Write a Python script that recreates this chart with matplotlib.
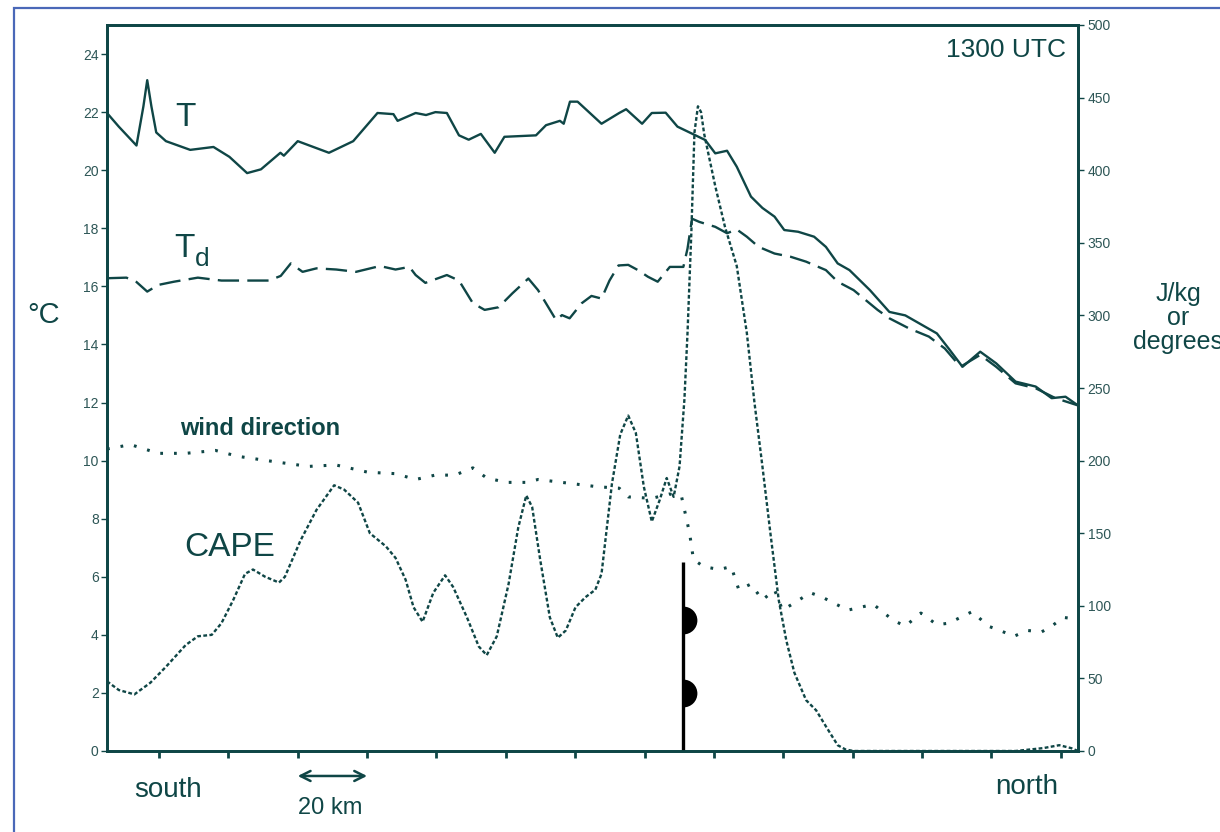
import numpy as np
import matplotlib
matplotlib.use("Agg")
import matplotlib.pyplot as plt
from matplotlib.patches import Rectangle

# distance along the transect (km, south -> north)
t_km = [0, 3.4, 8.5, 10.5, 11.6, 12.8, 14.2, 17, 24, 30.7, 35.3, 40.4, 44.4, 50, 51,
        55, 64, 71, 78, 82.6, 83.8, 89, 92, 94.7, 98, 101.5, 104.3, 107.8, 111.8,
        114.6, 123.7, 126.6, 130.6, 131.7, 133.5, 135.7, 142.6, 147.7, 149.7, 154.3,
        157.1, 161.1, 164.5, 168.5, 172.5, 175.4, 178.8, 181.6, 185.7, 189, 192.5,
        195.3, 199.3, 203.9, 207.3, 210.7, 214.1, 220, 225.6, 230.2, 239.3, 242.7,
        246.7, 251.8, 256.4, 262, 267.8, 272.4, 276.4, 280]
t_c = [21.97, 21.5, 20.85, 22.2, 23.1, 22.2, 21.3, 21.0, 20.7, 20.8, 20.46, 19.9, 20.03,
       20.6, 20.5, 21.0, 20.6, 21.0, 21.97, 21.93, 21.7, 21.97, 21.9, 22.0, 21.97, 21.2,
       21.05, 21.25, 20.6, 21.15, 21.2, 21.55, 21.7, 21.6, 22.36, 22.36, 21.6, 21.97,
       22.1, 21.6, 21.97, 21.98, 21.5, 21.27, 21.04, 20.58, 20.67, 20.12, 19.09, 18.7,
       18.4, 17.94, 17.88, 17.71, 17.36, 16.79, 16.56, 15.87, 15.12, 15.0, 14.38, 13.86,
       13.23, 13.75, 13.35, 12.72, 12.55, 12.15, 12.2, 11.9]

td_km = [0, 5.6, 8.5, 11.6, 14.8, 19.3, 26.2, 33, 39.9, 46.7, 50.1, 53, 56.4, 60.4,
         66.1, 71.8, 78.7, 83.2, 87.2, 89, 91.8, 98, 101.5, 105.5, 108.9, 112.9, 116.9,
         121.5, 124.3, 129.5, 131.2, 133.4, 136.9, 139.7, 142.6, 144.9, 147.5, 150.3,
         153.1, 156, 158.8, 162.3, 166.2, 167.4, 168.7, 170.8, 175.4, 178.8, 181.6,
         184.5, 187.9, 192.5, 197.1, 201.6, 207.3, 210.7, 215.3, 222.2, 225.6, 231.3,
         237, 241.6, 246.1, 251.8, 256.4, 262, 267.8, 273.5, 280]
td_c = [16.28, 16.3, 16.15, 15.82, 16.05, 16.16, 16.3, 16.2, 16.2, 16.2, 16.36, 16.79,
        16.5, 16.62, 16.58, 16.5, 16.7, 16.58, 16.67, 16.39, 16.12, 16.39, 16.2, 15.42,
        15.19, 15.28, 15.76, 16.27, 15.87, 14.84, 15.01, 14.9, 15.42, 15.67, 15.58, 16.2,
        16.72, 16.74, 16.56, 16.33, 16.16, 16.67, 16.67, 17.3, 18.33, 18.22, 18.05, 17.83,
        17.96, 17.71, 17.36, 17.13, 17.02, 16.85, 16.56, 16.16, 15.87, 15.19, 14.9, 14.55,
        14.27, 13.86, 13.23, 13.64, 13.23, 12.66, 12.49, 12.15, 11.9]

wind_km = [0, 6.8, 14.8, 22.7, 31.3, 37.6, 49, 58.1, 66, 75.2, 83.2, 89, 94.6, 100.3,
           105.5, 109.5, 115.2, 121, 124.3, 134.6, 141.4, 147.7, 150.3, 157.1, 162.2,
           165.7, 168, 169.1, 172, 176.5, 180, 182.2, 185.7, 189, 192.5, 194.8, 198.2,
           202.8, 206.2, 213.6, 221, 226.7, 230.2, 234.7, 239.3, 242.7, 249.5, 254.1,
           257.5, 261.5, 265.5, 269.5, 272.4, 275.8, 279.2]
wind_deg = [208, 211, 205, 205, 207, 203, 199, 196, 197, 192, 191, 187, 190, 190, 195,
            188, 185, 185, 187, 184, 182, 181, 175, 174, 177, 175, 150, 132, 127, 125,
            127, 111, 115, 104, 111, 97, 102, 109, 106, 97, 101, 90, 86, 95, 87, 88, 96,
            86, 83, 79, 83, 82, 86, 92, 91]

cape_km = [0, 3.4, 7.9, 12.5, 17, 22.7, 26.2, 30.2, 33, 36.4, 39.8, 42.1, 45.6, 49.6,
           51.3, 55.8, 60.4, 65.5, 68.4, 72.4, 75.8, 80.4, 83.2, 86.1, 88.4, 91, 94.1,
           97.5, 99.8, 103.8, 107.2, 109.5, 112.4, 115.8, 118.6, 120.9, 122.6, 124.9,
           127.7, 130, 132.3, 135.1, 138, 140.8, 142.6, 145.6, 148, 150.3, 152.5, 154.8,
           157.1, 159.4, 161.4, 163.4, 165.1, 166.5, 167.4, 168.5, 169.4, 170.4, 171.3,
           172.2, 175.4, 178.2, 181.6, 184.5, 186.7, 189, 191.3, 193.7, 195.9, 198.2,
           201.6, 204.5, 207.3, 210.7, 213, 215.3, 262, 266, 270, 274.6, 278, 280]
cape_jkg = [48, 42, 39, 47, 58, 73, 79, 80, 88, 104, 122, 125, 120, 116, 120, 145, 166,
            183, 180, 171, 150, 141, 133, 118, 99, 89, 109, 121, 113, 92, 72, 66, 79, 115,
            154, 176, 168, 132, 92, 78, 83, 99, 106, 111, 122, 184, 218, 231, 219, 182,
            158, 173, 188, 175, 196, 242, 288, 357, 426, 444, 440, 425, 389, 361, 334, 288,
            240, 196, 150, 104, 76, 54, 35, 28, 17, 4, 1, 0, 0, 1, 2, 4, 2, 0]

# surface warm front position and its symbols (right-axis units)
front_km = 166
front_top = 130
front_symbols = [40, 90]

temp_ticks = np.arange(0, 25, 2)
right_ticks = np.arange(0, 501, 50)
dist_ticks = np.arange(15, 276, 20)

INK = "#0f4646"
TICK_INK = "#2d5656"
plt.rcParams["font.family"] = ["Liberation Sans", "DejaVu Sans"]

W, H = 1220, 832
fig = plt.figure(figsize=(W / 100, H / 100), dpi=100)
ax = fig.add_axes([107 / W, 81 / H, 971 / W, 726 / H])
ax2 = ax.twinx()

ax.plot(t_km, t_c, color=INK, lw=1.7, solid_joinstyle="round")
ax.plot(td_km, td_c, color=INK, lw=1.7, dashes=(9, 3.5))
ax2.plot(wind_km, wind_deg, color=INK, lw=2.2, dashes=(0.9, 3.6),
         dash_capstyle="butt")
ax2.plot(cape_km, cape_jkg, color=INK, lw=1.7, dashes=(1.6, 1.0))

# warm front: vertical bar with half-disc symbols
ax2.vlines(front_km, 0, front_top, color="black", lw=2.4)
ax2.plot([front_km] * len(front_symbols), front_symbols, ls="none", marker="o",
         fillstyle="right", ms=20, mfc="black", markerfacecoloralt="none", mew=0)

ax.set_xlim(0, 280)
ax.set_ylim(0, 25)
ax2.set_ylim(0, 500)
ax.set_xticks(dist_ticks)
ax.set_xticklabels([])
ax.set_yticks(temp_ticks)
ax2.set_yticks(right_ticks)

for a in (ax, ax2):
    for s in a.spines.values():
        s.set_color(INK)
        s.set_linewidth(2.0)
ax.tick_params(axis="x", direction="out", length=5, width=2, colors=INK)
ax.tick_params(axis="y", direction="out", length=4, width=1, colors=INK,
               labelcolor=TICK_INK, labelsize=10, pad=2)
ax2.tick_params(axis="y", direction="out", length=4, width=1, colors=INK,
                labelcolor=TICK_INK, labelsize=10, pad=3)

# curve labels
ax.text(22.5, 21.8, "T", fontsize=24, color=INK, ha="center", va="center")
ax.text(19.3, 17.3, "T", fontsize=24, color=INK, ha="left", va="center")
ax.text(25.3, 16.95, "d", fontsize=19, color=INK, ha="left", va="center")
ax.text(21, 11.1, "wind direction", fontsize=17, fontweight="bold", color=INK,
        ha="left", va="center")
ax.text(22.2, 7.0, "CAPE", fontsize=24, color=INK, ha="left", va="center")
ax.text(276.5, 24.15, "1300 UTC", fontsize=19, color=INK, ha="right", va="center")

# orientation and scale below the axis
ax.text(17.6, -1.35, "south", fontsize=20, color=INK, ha="center", va="center",
        clip_on=False)
ax.text(265.2, -1.25, "north", fontsize=20, color=INK, ha="center", va="center",
        clip_on=False)
ax.annotate("", xy=(55, -0.86), xytext=(75, -0.86), annotation_clip=False,
            arrowprops=dict(arrowstyle="<->", color=INK, lw=1.8,
                            shrinkA=0, shrinkB=0, mutation_scale=18))
ax.text(64.5, -1.95, "20 km", fontsize=17, color=INK, ha="center", va="center",
        clip_on=False)

# axis titles
fig.text(44 / W, 1 - 315 / H, "°C", fontsize=21, color=INK, ha="center", va="center")
fig.text(1178 / W, 1 - 318 / H, "J/kg\nor\ndegrees", fontsize=18, color=INK,
         ha="center", va="center", linespacing=1.0)

# page frame
fig.patches.append(Rectangle((14 / W, -0.1), 1.2, 1.1 - 8 / H,
                             transform=fig.transFigure, fill=False,
                             edgecolor="#4a68b8", lw=1.6))

fig.savefig("out.png", dpi=100)
